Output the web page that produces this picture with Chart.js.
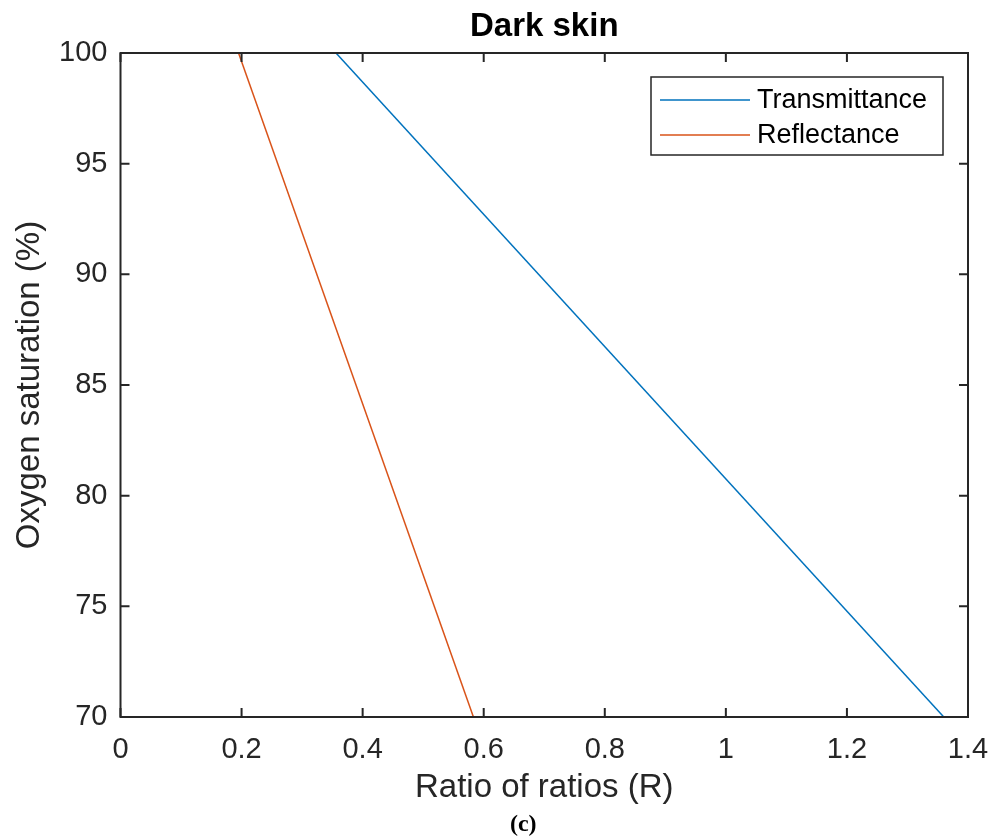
<!DOCTYPE html>
<html>
<head>
<meta charset="utf-8">
<script src="https://cdn.jsdelivr.net/npm/chart.js@4.4.0/dist/chart.umd.min.js"></script>
<style>
  html, body { margin: 0; padding: 0; background: #fff; }
  #wrap { width: 993px; height: 838px; }
</style>
</head>
<body>
<div id="wrap"><canvas id="myChart" width="993" height="838"></canvas></div>
<script>
// data
const seriesNames = ["Transmittance", "Reflectance"]
const transR = [0.356, 1.360]     // ratio of ratios
const transSat = [100, 70]        // oxygen saturation (%)
const reflR = [0.195, 0.583]
const reflSat = [100, 70]
const xTicks = [0, 0.2, 0.4, 0.6, 0.8, 1, 1.2, 1.4]
const yTicks = [70, 75, 80, 85, 90, 95, 100]

const colors = ["#0072BD", "#D95319"]
const axisCol = "#262626"
const sans = "'Liberation Sans', Arial, sans-serif"

function pts(xs, ys) {
    let out = []
    for (let i = 0; i < xs.length; i++) out.push({x: xs[i], y: ys[i]})
    return out
}

// box, inward ticks, titles and legend like matlab
const matlabLook = {
    id: "matlabLook",
    afterDraw(chart) {
        const ctx = chart.ctx
        const a = chart.chartArea
        const xs = chart.scales.x, ys = chart.scales.y
        const tl = 9
        ctx.save()
        ctx.strokeStyle = axisCol
        ctx.lineWidth = 2
        ctx.strokeRect(a.left, a.top, a.right - a.left, a.bottom - a.top)
        ctx.beginPath()
        xTicks.forEach(v => {
            const px = xs.getPixelForValue(v)
            ctx.moveTo(px, a.bottom); ctx.lineTo(px, a.bottom - tl)
            ctx.moveTo(px, a.top); ctx.lineTo(px, a.top + tl)
        })
        yTicks.forEach(v => {
            const py = ys.getPixelForValue(v)
            ctx.moveTo(a.left, py); ctx.lineTo(a.left + tl, py)
            ctx.moveTo(a.right, py); ctx.lineTo(a.right - tl, py)
        })
        ctx.stroke()

        // title + axis titles
        const cx = (a.left + a.right) / 2
        ctx.fillStyle = "#000"
        ctx.textAlign = "center"
        ctx.textBaseline = "middle"
        ctx.font = "bold 33px " + sans
        ctx.fillText("Dark skin", cx, 27)
        ctx.fillStyle = axisCol
        ctx.font = "33px " + sans
        ctx.fillText("Ratio of ratios (R)", cx, 788)
        ctx.save()
        ctx.translate(30, (a.top + a.bottom) / 2)
        ctx.rotate(-Math.PI / 2)
        ctx.fillText("Oxygen saturation (%)", 0, 0)
        ctx.restore()
        ctx.fillStyle = "#000"
        ctx.font = "bold 24px 'Liberation Serif', serif"
        ctx.fillText("(c)", cx - 21, 825)

        // legend
        const lx = 651, ly = 77, lw = 292, lh = 78
        ctx.fillStyle = "#fff"
        ctx.fillRect(lx, ly, lw, lh)
        ctx.lineWidth = 1.5
        ctx.strokeStyle = axisCol
        ctx.strokeRect(lx, ly, lw, lh)
        ctx.font = "27px " + sans
        ctx.textAlign = "left"
        chart.data.datasets.forEach((ds, i) => {
            const y = 100 + i * 35
            ctx.strokeStyle = ds.borderColor
            ctx.lineWidth = 1.5
            ctx.beginPath()
            ctx.moveTo(660, y); ctx.lineTo(750, y)
            ctx.stroke()
            ctx.fillStyle = "#000"
            ctx.fillText(ds.label, 757, y + 1)
        })
        ctx.restore()
    }
}

const chart = new Chart(document.getElementById("myChart").getContext("2d"), {
    type: "scatter",
    data: {
        datasets: [
            {
                label: seriesNames[0],
                data: pts(transR, transSat),
                borderColor: colors[0],
                backgroundColor: colors[0],
                showLine: true,
                borderWidth: 1.5,
                pointRadius: 0
            },
            {
                label: seriesNames[1],
                data: pts(reflR, reflSat),
                borderColor: colors[1],
                backgroundColor: colors[1],
                showLine: true,
                borderWidth: 1.5,
                pointRadius: 0
            }
        ]
    },
    options: {
        responsive: false,
        animation: false,
        layout: { padding: { left: 0, right: 25, top: 53, bottom: 0 } },
        plugins: { legend: { display: false }, tooltip: { enabled: false } },
        scales: {
            x: {
                type: "linear",
                min: 0, max: 1.4,
                afterBuildTicks: s => { s.ticks = xTicks.map(v => ({value: v})) },
                afterFit: s => { s.height = 121; s.paddingLeft = 0; s.paddingRight = 0 },
                grid: { display: false, drawTicks: false },
                border: { display: false },
                ticks: {
                    color: axisCol,
                    font: { family: sans, size: 29 },
                    padding: 16,
                    maxRotation: 0,
                    callback: v => String(Number(v.toFixed(1)))
                }
            },
            y: {
                type: "linear",
                min: 70, max: 100,
                afterBuildTicks: s => { s.ticks = yTicks.map(v => ({value: v})) },
                afterFit: s => { s.width = 120.5; s.paddingTop = 0; s.paddingBottom = 0 },
                grid: { display: false, drawTicks: false },
                border: { display: false },
                ticks: {
                    color: axisCol,
                    font: { family: sans, size: 29 },
                    padding: 13
                }
            }
        }
    },
    plugins: [matlabLook]
});
</script>
</body>
</html>
